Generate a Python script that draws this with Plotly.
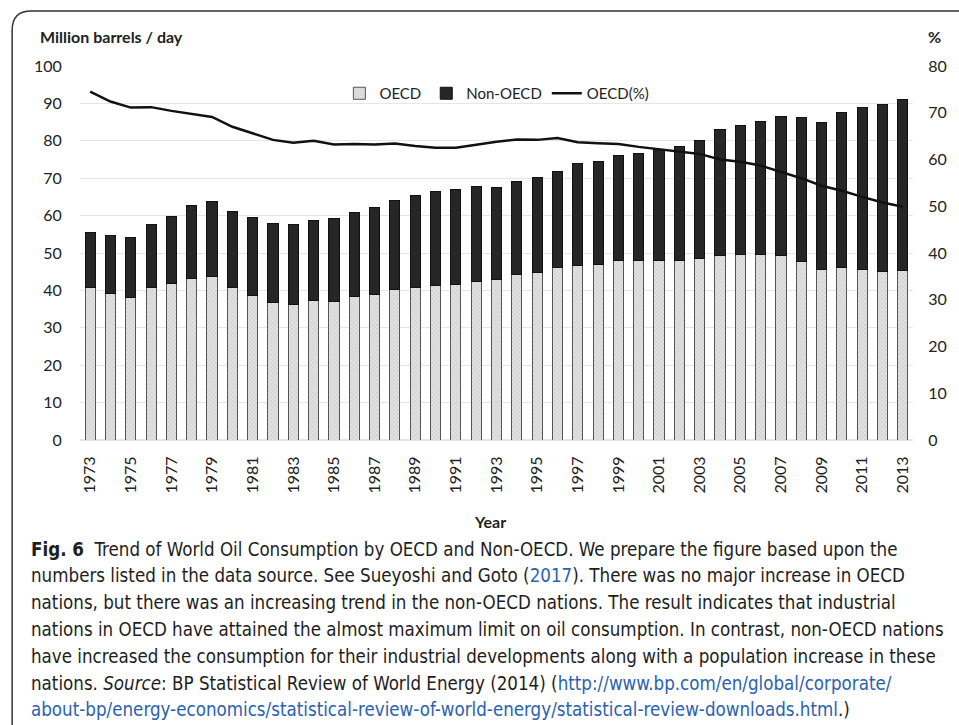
import plotly.graph_objects as go

# Data (million barrels / day and %)
years = [str(y) for y in range(1973, 2014)]
total = [55.5, 54.6, 54.2, 57.5, 59.7, 62.6, 63.7, 61.2, 59.4, 57.8,
         57.5, 58.8, 59.2, 60.9, 62.3, 64.1, 65.5, 66.5, 66.9, 67.9,
         67.5, 69.2, 70.2, 71.7, 73.9, 74.4, 76.0, 76.7, 77.7, 78.4,
         80.0, 83.0, 84.2, 85.1, 86.5, 86.1, 84.9, 87.7, 88.8, 89.8, 91.1]
oecd = [40.8, 39.3, 38.1, 40.7, 41.8, 43.2, 43.6, 40.7, 38.6, 36.8,
        36.3, 37.3, 37.0, 38.4, 38.9, 40.2, 40.9, 41.3, 41.5, 42.5,
        42.9, 44.2, 44.8, 46.0, 46.7, 47.0, 48.0, 48.0, 48.0, 48.0,
        48.5, 49.3, 49.7, 49.5, 49.3, 47.6, 45.6, 46.1, 45.6, 45.1, 45.2]
non_oecd = [round(t - o, 1) for t, o in zip(total, oecd)]
oecd_pct = [74.5, 72.4, 71.1, 71.2, 70.4, 69.7, 69.1, 67.0, 65.6, 64.2,
            63.6, 64.0, 63.2, 63.3, 63.2, 63.4, 62.9, 62.5, 62.5, 63.2,
            63.8, 64.3, 64.2, 64.6, 63.7, 63.5, 63.3, 62.7, 62.2, 61.7,
            61.2, 60.0, 59.5, 58.7, 57.4, 56.0, 54.4, 53.3, 52.0, 50.8, 49.9]
tick_years = years[::2]

caption_lines = [
    "<b>Fig. 6</b>  Trend of World Oil Consumption by OECD and Non-OECD. We prepare the figure based upon the",
    "numbers listed in the data source. See Sueyoshi and Goto (<span style='color:#2a62b0'>2017</span>). There was no major increase in OECD",
    "nations, but there was an increasing trend in the non-OECD nations. The result indicates that industrial",
    "nations in OECD have attained the almost maximum limit on oil consumption. In contrast, non-OECD nations",
    "have increased the consumption for their industrial developments along with a population increase in these",
    "nations. <i>Source</i>: BP Statistical Review of World Energy (2014) (<span style='color:#2a62b0'>http://www.bp.com/en/global/corporate/</span>",
    "<span style='color:#2a62b0'>about-bp/energy-economics/statistical-review-of-world-energy/statistical-review-downloads.html</span>.)",
]

W, H = 959, 725
L, R, T, B = 80, 44, 66, 285
chart_font = "Lato, Open Sans, sans-serif"


def px_x(p):
    return (p - L) / (W - L - R)


def px_y(p):
    return (H - B - p) / (H - T - B)


fig = go.Figure()

fig.add_trace(go.Bar(
    x=years, y=oecd, name="OECD",
    marker=dict(color="#dcdcdc", line=dict(color="#555555", width=1),
                pattern=dict(shape="x", size=3, solidity=0.25,
                             fgcolor="#9a9a9a", bgcolor="#e2e2e2")),
))
fig.add_trace(go.Bar(
    x=years, y=non_oecd, name="Non-OECD",
    marker=dict(color="#262626", line=dict(color="#111111", width=1)),
))
fig.add_trace(go.Scatter(
    x=years, y=oecd_pct, name="OECD(%)", yaxis="y2", mode="lines",
    line=dict(color="#111111", width=2.5),
))

annotations = [
    dict(text="<b>Million barrels / day</b>", x=px_x(38), y=px_y(37),
         xanchor="left", yanchor="middle", font=dict(size=16)),
    dict(text="<b>%</b>", x=px_x(928), y=px_y(37),
         xanchor="left", yanchor="middle", font=dict(size=16)),
    dict(text="<b>Year</b>", x=px_x(491), y=px_y(521),
         xanchor="center", yanchor="middle", font=dict(size=16)),
]
for i, line in enumerate(caption_lines):
    annotations.append(dict(
        text=line, x=px_x(29), y=px_y(549 + i * 26.8),
        xanchor="left", yanchor="middle",
        font=dict(size=18.6, family="DejaVu Sans Condensed, sans-serif",
                  color="#1e1e1e"),
    ))
for a in annotations:
    a.update(xref="paper", yref="paper", showarrow=False)

# rounded frame around the figure
x0, y0 = px_x(12), px_y(11)
fig.add_shape(type="path", xref="paper", yref="paper",
              path=f"M {x0} {px_y(760)} L {x0} {px_y(30)} Q {x0} {y0} {px_x(31)} {y0} L {px_x(980)} {y0}",
              line=dict(color="#333333", width=1.5))

fig.update_layout(
    width=W, height=H,
    margin=dict(l=L, r=R, t=T, b=B),
    paper_bgcolor="white", plot_bgcolor="white",
    font=dict(family=chart_font, size=16, color="#222222"),
    barmode="stack", bargap=0.5,
    showlegend=True,
    legend=dict(orientation="h", x=px_x(340), y=px_y(77), xanchor="left", yanchor="top",
                traceorder="normal", font=dict(size=15), bgcolor="rgba(0,0,0,0)",
                itemwidth=30, tracegroupgap=0),
    xaxis=dict(type="category", tickvals=tick_years, ticktext=tick_years,
               tickangle=-90, showgrid=False, showline=False,
               ticks="outside", ticklen=9, tickcolor="white",
               range=[-0.5, len(years) - 0.5]),
    yaxis=dict(range=[0, 100], dtick=10, showgrid=True, gridcolor="#e6e6e6",
               zeroline=True, zerolinecolor="#e6e6e6", showline=False,
               ticks="outside", ticklen=14, tickcolor="white"),
    yaxis2=dict(range=[0, 80], dtick=10, overlaying="y", side="right",
                showgrid=False, zeroline=False, showline=False,
                ticks="outside", ticklen=11, tickcolor="white"),
    annotations=annotations,
)

fig.write_html("out.html", config={"displayModeBar": False},
               post_script="document.body.style.margin='0';")
